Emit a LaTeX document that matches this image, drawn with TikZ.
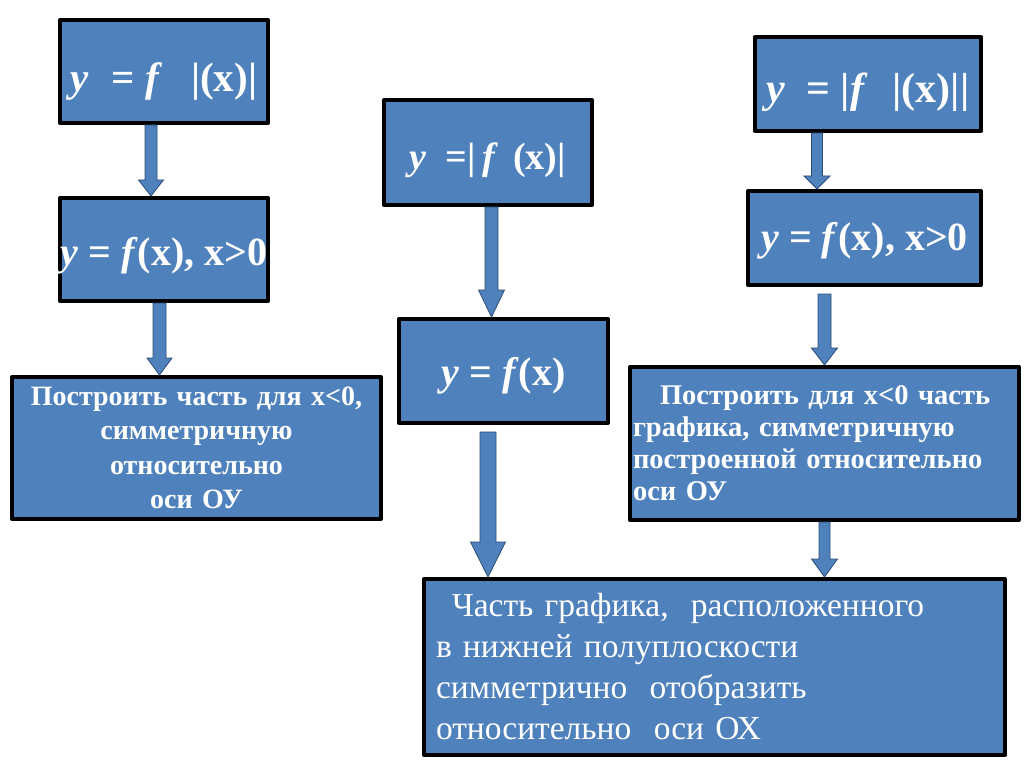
\documentclass[tikz,border=0pt]{standalone}
\usepackage{fontspec}
\setmainfont{Liberation Serif}
\usetikzlibrary{calc}
\definecolor{boxblue}{RGB}{79,129,189}
\definecolor{arrowline}{RGB}{44,77,117}
% block arrow: from, to, x, gap, half shaft, half head, head length
\newcommand{\barrow}[7]{%
	\draw[barrow] let \p1=(#1.south), \p2=(#2.north) in
	(#3pt-#5pt,\y1-#4pt)--(#3pt-#5pt,\y2+#7pt)--(#3pt-#6pt,\y2+#7pt)--(#3pt,\y2)
	--(#3pt+#6pt,\y2+#7pt)--(#3pt+#5pt,\y2+#7pt)--(#3pt+#5pt,\y1-#4pt)--cycle;}
\newcommand{\vi}[1]{\textit{#1}}
\begin{document}
\begin{tikzpicture}[x=1pt,y=-1pt, line join=round,
	box/.style={draw=black, line width=4pt, fill=boxblue, text=white, inner sep=0pt},
	formula/.style 2 args={box, font=\fontsize{#1}{#1}\selectfont\bfseries, text height=#2, text depth=0pt},
	barrow/.style={fill=boxblue, draw=arrowline, line width=0.8pt, line join=miter}]
	\useasboundingbox (0,0) rectangle (1024,767);
	\fill[white] (0,0) rectangle (1024,767);
	% left column
	\node[formula={41}{41pt}, minimum width=208, minimum height=103] (fabsx) at (164,71.5) {\vi{y}\hspace{0.55em}= \vi{f}\hspace{0.7em}|(x)|};
	\node[formula={40}{31pt}, minimum width=208, minimum height=103] (fpos1) at (164,249.5) {\vi{y} = \vi{f}(x), x>0};
	\node[box, font=\fontsize{28}{34.5}\selectfont\bfseries, align=center, text width=361, minimum height=142, inner xsep=4pt] (symoy1) at (196.5,448) {Построить часть для x<0,\\ симметричную\\ относительно\\ оси ОУ};
	% middle column
	\node[formula={38}{35pt}, minimum width=208, minimum height=105] (absf) at (488,152.5) {\vi{y}\hspace{0.5em}=|\,\vi{f}\hspace{0.4em}(x)|};
	\node[formula={40}{28pt}, minimum width=209, minimum height=104] (fplain) at (503.5,371) {\vi{y} = \vi{f}(x)};
	\node[box, font=\fontsize{33.5}{41}\selectfont, align=left, text width=557, minimum height=176, inner xsep=12pt] (symox) at (714.5,667) {\hspace*{16pt}Часть графика,\ \ расположенного\\ в нижней полуплоскости\\ симметрично\ \ отобразить\\ относительно\ \ оси ОХ};
	% right column
	\node[formula={42}{38pt}, minimum width=226, minimum height=94] (absall) at (868,84) {\vi{y}\hspace{0.5em}= |\vi{f}\hspace{0.6em}|(x)||};
	\node[formula={40}{24pt}, minimum width=233, minimum height=94] (fpos2) at (864.5,238) {\vi{y} = \vi{f}(x), x>0};
	\node[box, font=\fontsize{28.5}{32}\selectfont\bfseries, align=left, text width=383, minimum height=153, inner xsep=3pt] (symoy2) at (824.5,443.5) {\hspace*{27pt}Построить для x<0 часть\\ графика, симметричную\\ построенной относительно\\ оси ОУ};
	% arrows
	\barrow{fabsx}{fpos1}{151}{0}{6}{12.5}{16}
	\barrow{fpos1}{symoy1}{159.5}{0}{6.5}{12.5}{17}
	\barrow{absf}{fplain}{491.5}{0}{6.5}{13}{27}
	\barrow{fplain}{symox}{488}{7}{8}{17.5}{35}
	\barrow{absall}{fpos2}{817}{0}{5.5}{13}{13}
	\barrow{fpos2}{symoy2}{824.5}{7}{6.5}{13}{17}
	\barrow{symoy2}{symox}{824.5}{0}{5.5}{13}{18}
\end{tikzpicture}
\end{document}
